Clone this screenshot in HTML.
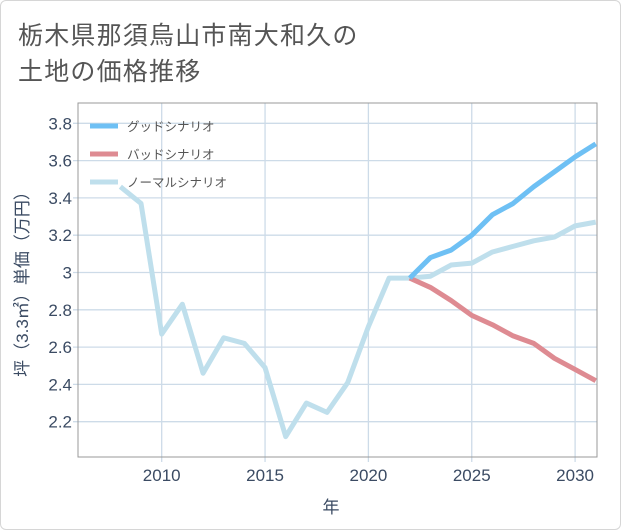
<!DOCTYPE html>
<html><head><meta charset="utf-8"><style>
body{margin:0;background:#fff;}
#card{position:absolute;left:0;top:0;width:619px;height:528px;border:1px solid #d6d6d6;border-radius:6px;background:#fff;overflow:hidden;}
.t{position:absolute;left:17px;font:25px "Liberation Sans","Noto Sans CJK JP",sans-serif;color:#555;letter-spacing:1.2px;white-space:nowrap;}
svg text{font-family:"Liberation Sans","Noto Sans CJK JP",sans-serif;}
</style></head><body>
<div id="card">
<div class="t" style="top:15px">栃木県那須烏山市南大和久の</div>
<div class="t" style="top:51px">土地の価格推移</div>
</div>
<svg id="chart" width="621" height="530" style="position:absolute;left:0;top:0"></svg>
<script>
const years=[2008,2009,2010,2011,2012,2013,2014,2015,2016,2017,2018,2019,2020,2021,2022,2023,2024,2025,2026,2027,2028,2029,2030,2031];
const normal=[3.46,3.37,2.67,2.83,2.46,2.65,2.62,2.49,2.12,2.30,2.25,2.41,2.71,2.97,2.97,2.98,3.04,3.05,3.11,3.14,3.17,3.19,3.25,3.27];
const fYears=[2022,2023,2024,2025,2026,2027,2028,2029,2030,2031];
const good=[2.97,3.08,3.12,3.20,3.31,3.37,3.46,3.54,3.62,3.69];
const bad=[2.97,2.92,2.85,2.77,2.72,2.66,2.62,2.54,2.48,2.42];
const yTicks=[2.2,2.4,2.6,2.8,3,3.2,3.4,3.6,3.8];
const yTickLabels=["2.2","2.4","2.6","2.8","3","3.2","3.4","3.6","3.8"];
const xTicks=[2010,2015,2020,2025,2030];
const L=78,R=597,T=103,B=457;
const X=y=>161.7+(y-2010)*20.67;
const Y=v=>123.3+(3.8-v)*186.5;
const ns="http://www.w3.org/2000/svg",svg=document.getElementById('chart');
function mk(tag,attrs,parent){const e=document.createElementNS(ns,tag);for(const k in attrs)e.setAttribute(k,attrs[k]);(parent||svg).appendChild(e);return e;}
const clip=mk('clipPath',{id:'pc'});mk('rect',{x:L,y:T,width:R-L,height:B-T},clip);
yTicks.forEach((v,i)=>{
 const g=mk('line',{x1:L-5,x2:R,y1:Y(v),y2:Y(v),stroke:'#cddbe8','stroke-width':1.3});
 
 
 const t=mk('text',{x:L-6,y:Y(v)+6,'text-anchor':'end','font-size':17,fill:'#3b4b63'});t.textContent=yTickLabels[i];
 
 
});
xTicks.forEach(v=>{
 const g=mk('line',{x1:X(v),x2:X(v),y1:T,y2:B+5,stroke:'#cddbe8','stroke-width':1.3});
 
 
 const t=mk('text',{x:X(v),y:B+24,'text-anchor':'middle','font-size':17,fill:'#3b4b63'});t.textContent=v;
 
 
});
const box=mk('rect',{x:L,y:T,width:R-L,height:B-T,fill:'none',stroke:'#999','stroke-width':1});


function line(xs,vs,color,name){
 const p=mk('polyline',{points:xs.map((x,i)=>X(x)+','+Y(vs[i])).join(' '),fill:'none',stroke:color,'stroke-width':5,'stroke-linejoin':'round','clip-path':'url(#pc)'});
 
 
}
line(years,normal,'#bfdfec','normal-scenario-line');
line(fYears,bad,'#de8b92','bad-scenario-line');
line(fYears,good,'#6ec0f4','good-scenario-line');
const leg=[['グッドシナリオ','#6ec0f4'],['バッドシナリオ','#de8b92'],['ノーマルシナリオ','#bfdfec']];
leg.forEach((l,i)=>{
 const y=126+i*28;
 const s=mk('line',{x1:90,x2:118,y1:y,y2:y,stroke:l[1],'stroke-width':5});
 
 
 const t=mk('text',{x:127,y:y+5,'font-size':12.5,fill:'#555'});t.textContent=l[0];
 
 
});
const xt=mk('text',{x:331,y:513,'text-anchor':'middle','font-size':17,fill:'#3b4b63'});xt.textContent='年';


const yt=mk('text',{x:0,y:0,'text-anchor':'middle','font-size':17,fill:'#3b4b63',transform:'translate(28,280) rotate(-90)'});yt.textContent='坪（3.3㎡）単価（万円）';


</script>
</body></html>
